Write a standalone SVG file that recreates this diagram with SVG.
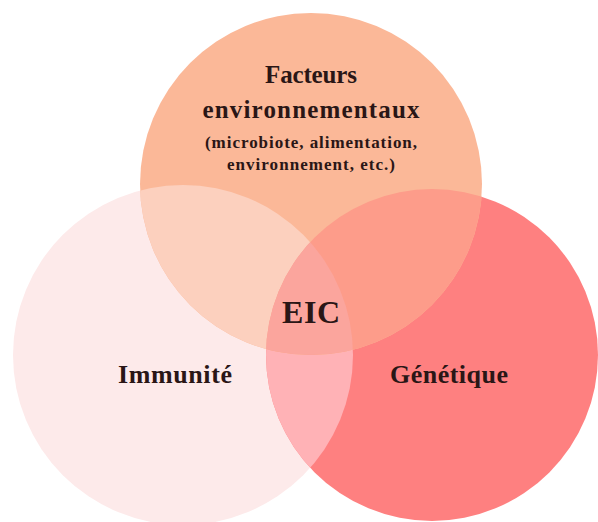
<svg xmlns="http://www.w3.org/2000/svg" width="598" height="522" viewBox="0 0 598 522">
<style>
.t{font-family:"Liberation Serif","DejaVu Serif",serif;font-weight:bold;fill:#2a1616;text-anchor:middle}
</style>
<defs>
<clipPath id="cT"><circle cx="311" cy="184" r="171"/></clipPath>
<clipPath id="cL"><circle cx="183" cy="355" r="170"/></clipPath>
<clipPath id="cR"><circle cx="432" cy="355" r="166"/></clipPath>
</defs>
<rect width="598" height="522" fill="#ffffff"/>
<g id="immunite">
<circle cx="183" cy="355" r="170" fill="#FDEAEA"/>
</g>
<g id="genetique">
<circle cx="432" cy="355" r="166" fill="#FE8080"/>
<g clip-path="url(#cL)"><circle cx="432" cy="355" r="166" fill="#FFB2B6"/></g>
</g>
<g id="facteurs">
<circle cx="311" cy="184" r="171" fill="#FBB898"/>
<g clip-path="url(#cL)"><circle cx="311" cy="184" r="171" fill="#FCD0BE"/></g>
<g clip-path="url(#cR)"><circle cx="311" cy="184" r="171" fill="#FD9C8A"/></g>
<g clip-path="url(#cR)"><g clip-path="url(#cL)"><circle cx="311" cy="184" r="171" fill="#FBA59D"/></g></g>
</g>
<g id="labels">
<text class="t" x="311" y="83" font-size="25" textLength="92">Facteurs</text>
<text class="t" x="311" y="118" font-size="25" textLength="217">environnementaux</text>
<text class="t" x="311" y="148" font-size="17" textLength="212">(microbiote, alimentation,</text>
<text class="t" x="311" y="170" font-size="17" textLength="168">environnement, etc.)</text>
<text class="t" x="311" y="323" font-size="32" textLength="58">EIC</text>
<text class="t" x="175" y="383" font-size="26" textLength="114">Immunité</text>
<text class="t" x="449" y="383" font-size="26" textLength="118">Génétique</text>
</g>
</svg>
